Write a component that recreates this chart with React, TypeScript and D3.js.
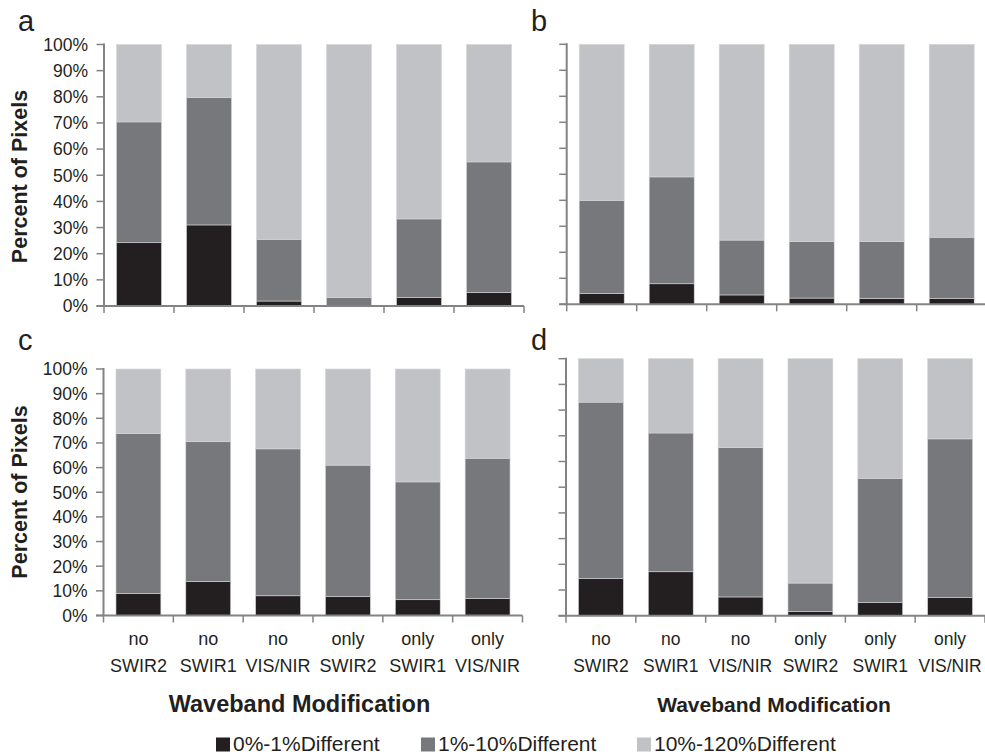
import React from "react";
import * as d3 from "d3";

const categories: string[][] = [
  ["no", "SWIR2"],
  ["no", "SWIR1"],
  ["no", "VIS/NIR"],
  ["only", "SWIR2"],
  ["only", "SWIR1"],
  ["only", "VIS/NIR"],
];
const seriesNames = ["0%-1%Different", "1%-10%Different", "10%-120%Different"];
const yTicks = [0, 10, 20, 30, 40, 50, 60, 70, 80, 90, 100];

// panel a
const aLow = [24.2, 31.0, 1.9, 0.0, 3.2, 5.2];
const aMid = [46.2, 48.7, 23.6, 3.2, 30.1, 49.9];
const aHigh = [29.6, 20.3, 74.5, 96.8, 66.7, 44.9];
// panel b
const bLow = [4.1, 7.9, 3.6, 2.4, 2.3, 2.2];
const bMid = [35.9, 41.1, 21.1, 21.7, 21.8, 23.6];
const bHigh = [60.0, 51.0, 75.3, 75.9, 75.9, 74.2];
// panel c
const cLow = [8.9, 13.8, 8.0, 7.8, 6.4, 6.9];
const cMid = [64.9, 56.7, 59.6, 53.2, 47.8, 56.9];
const cHigh = [26.2, 29.5, 32.4, 39.0, 45.8, 36.2];
// panel d
const dLow = [14.4, 17.1, 7.3, 1.6, 5.1, 7.0];
const dMid = [68.7, 54.0, 58.1, 11.1, 48.3, 61.8];
const dHigh = [16.9, 28.9, 34.6, 87.3, 46.6, 31.2];

const colors = ["#231f20", "#77787b", "#c1c2c5"];
const axisColor = "#828386";
const FONT = "'Liberation Sans', Arial, Helvetica, sans-serif";

type PanelCfg = {
  label: string;
  low: number[];
  mid: number[];
  high: number[];
  x0: number;
  x1: number;
  yTop: number;
  yBot: number;
  labelX: number;
  labelY: number;
  showY: boolean;
  showX: boolean;
  yTitleY: number;
  xTitleX: number;
  xTitleSize: number;
  xLabelSize: number;
};

const panels: PanelCfg[] = [
  { label: "a", low: aLow, mid: aMid, high: aHigh, x0: 104, x1: 524, yTop: 44.5, yBot: 306, labelX: 18, labelY: 31, showY: true, showX: false, yTitleY: 176.5, xTitleX: 300.5, xTitleSize: 23.5, xLabelSize: 18 },
  { label: "b", low: bLow, mid: bMid, high: bHigh, x0: 566.7, x1: 986.7, yTop: 44.3, yBot: 304.3, labelX: 531, labelY: 31, showY: false, showX: false, yTitleY: 0, xTitleX: 0, xTitleSize: 21, xLabelSize: 17.5 },
  { label: "c", low: cLow, mid: cMid, high: cHigh, x0: 103.5, x1: 522.5, yTop: 369, yBot: 615.5, labelX: 18, labelY: 350, showY: true, showX: true, yTitleY: 492, xTitleX: 299.5, xTitleSize: 23.5, xLabelSize: 18 },
  { label: "d", low: dLow, mid: dMid, high: dHigh, x0: 566, x1: 985, yTop: 358.7, yBot: 615.7, labelX: 531, labelY: 350, showY: false, showX: true, yTitleY: 0, xTitleX: 774, xTitleSize: 21, xLabelSize: 17.5 },
];

function Panel({ p }: { p: PanelCfg }) {
  const keys = ["low", "mid", "high"];
  const rows = categories.map((c, i) => ({ cat: c.join(" "), low: p.low[i], mid: p.mid[i], high: p.high[i] }));
  const stacked = d3.stack<any>().keys(keys)(rows);
  const x = d3
    .scaleBand<string>()
    .domain(rows.map((r) => r.cat))
    .range([p.x0, p.x1])
    .paddingInner(25 / 70)
    .paddingOuter(12.5 / 70);
  const y = d3.scaleLinear().domain([0, 100]).range([p.yBot, p.yTop]);
  const step = x.step();
  const xStart = x(rows[0].cat)! - x.paddingOuter() * step;
  const boundaries = d3.range(categories.length + 1).map((i) => xStart + i * step);

  return (
    <g>
      <text x={p.labelX} y={p.labelY} fontSize={29} fontFamily={FONT} fill="#231f20">
        {p.label}
      </text>
      {stacked.map((s, si) => (
        <g key={si} fill={colors[si]}>
          {s.map((d, i) => (
            <rect
              key={i}
              x={x(rows[i].cat)}
              width={x.bandwidth()}
              y={y(d[1])}
              height={Math.max(0, y(d[0]) - y(d[1]))}
              stroke="#d4d5d7"
              strokeWidth={0.6}
            />
          ))}
        </g>
      ))}
      {/* y axis */}
      <line x1={p.x0} x2={p.x0} y1={p.yTop - 1} y2={p.yBot} stroke={axisColor} strokeWidth={2} />
      {yTicks.map((t) => (
        <g key={t}>
          <line x1={p.x0 - 7.5} x2={p.x0} y1={y(t)} y2={y(t)} stroke={axisColor} strokeWidth={1.5} />
          {p.showY && (
            <text x={p.x0 - 16} y={y(t)} dy="0.36em" textAnchor="end" fontSize={17.5} fontFamily={FONT} fill="#231f20">
              {t}%
            </text>
          )}
        </g>
      ))}
      {/* x axis */}
      <line x1={p.x0 - 7.5} x2={p.x1} y1={p.yBot} y2={p.yBot} stroke={axisColor} strokeWidth={2} />
      {boundaries.map((bx, i) => (
        <line key={i} x1={bx} x2={bx} y1={p.yBot} y2={p.yBot + 7} stroke={axisColor} strokeWidth={1.5} />
      ))}
      {p.showX &&
        categories.map((c, i) => {
          const cx = x(rows[i].cat)! + x.bandwidth() / 2;
          return (
            <text key={i} textAnchor="middle" fontSize={p.xLabelSize} fontFamily={FONT} fill="#231f20">
              <tspan x={cx} y={645}>
                {c[0]}
              </tspan>
              <tspan x={cx} y={671.5}>
                {c[1]}
              </tspan>
            </text>
          );
        })}
      {p.showX && (
        <text x={p.xTitleX} y={711.5} textAnchor="middle" fontSize={p.xTitleSize} fontWeight="bold" fontFamily={FONT} fill="#231f20">
          Waveband Modification
        </text>
      )}
      {p.showY && (
        <text
          transform={`translate(27,${p.yTitleY}) rotate(-90)`}
          textAnchor="middle"
          fontSize={21.5}
          fontWeight="bold"
          fontFamily={FONT}
          fill="#231f20"
        >
          Percent of Pixels
        </text>
      )}
    </g>
  );
}

const legendX = [216, 421, 637];

export default function App() {
  return (
    <svg width={985} height={755} style={{ position: "absolute", left: 0, top: 0, background: "#fff" }}>
      <rect width={985} height={755} fill="#fff" />
      {panels.map((p) => (
        <Panel key={p.label} p={p} />
      ))}
      {seriesNames.map((n, i) => (
        <g key={n}>
          <rect x={legendX[i]} y={737.5} width={14} height={14} fill={colors[i]} />
          <text x={legendX[i] + 17} y={751} fontSize={21} fontFamily={FONT} fill="#231f20">
            {n}
          </text>
        </g>
      ))}
    </svg>
  );
}
